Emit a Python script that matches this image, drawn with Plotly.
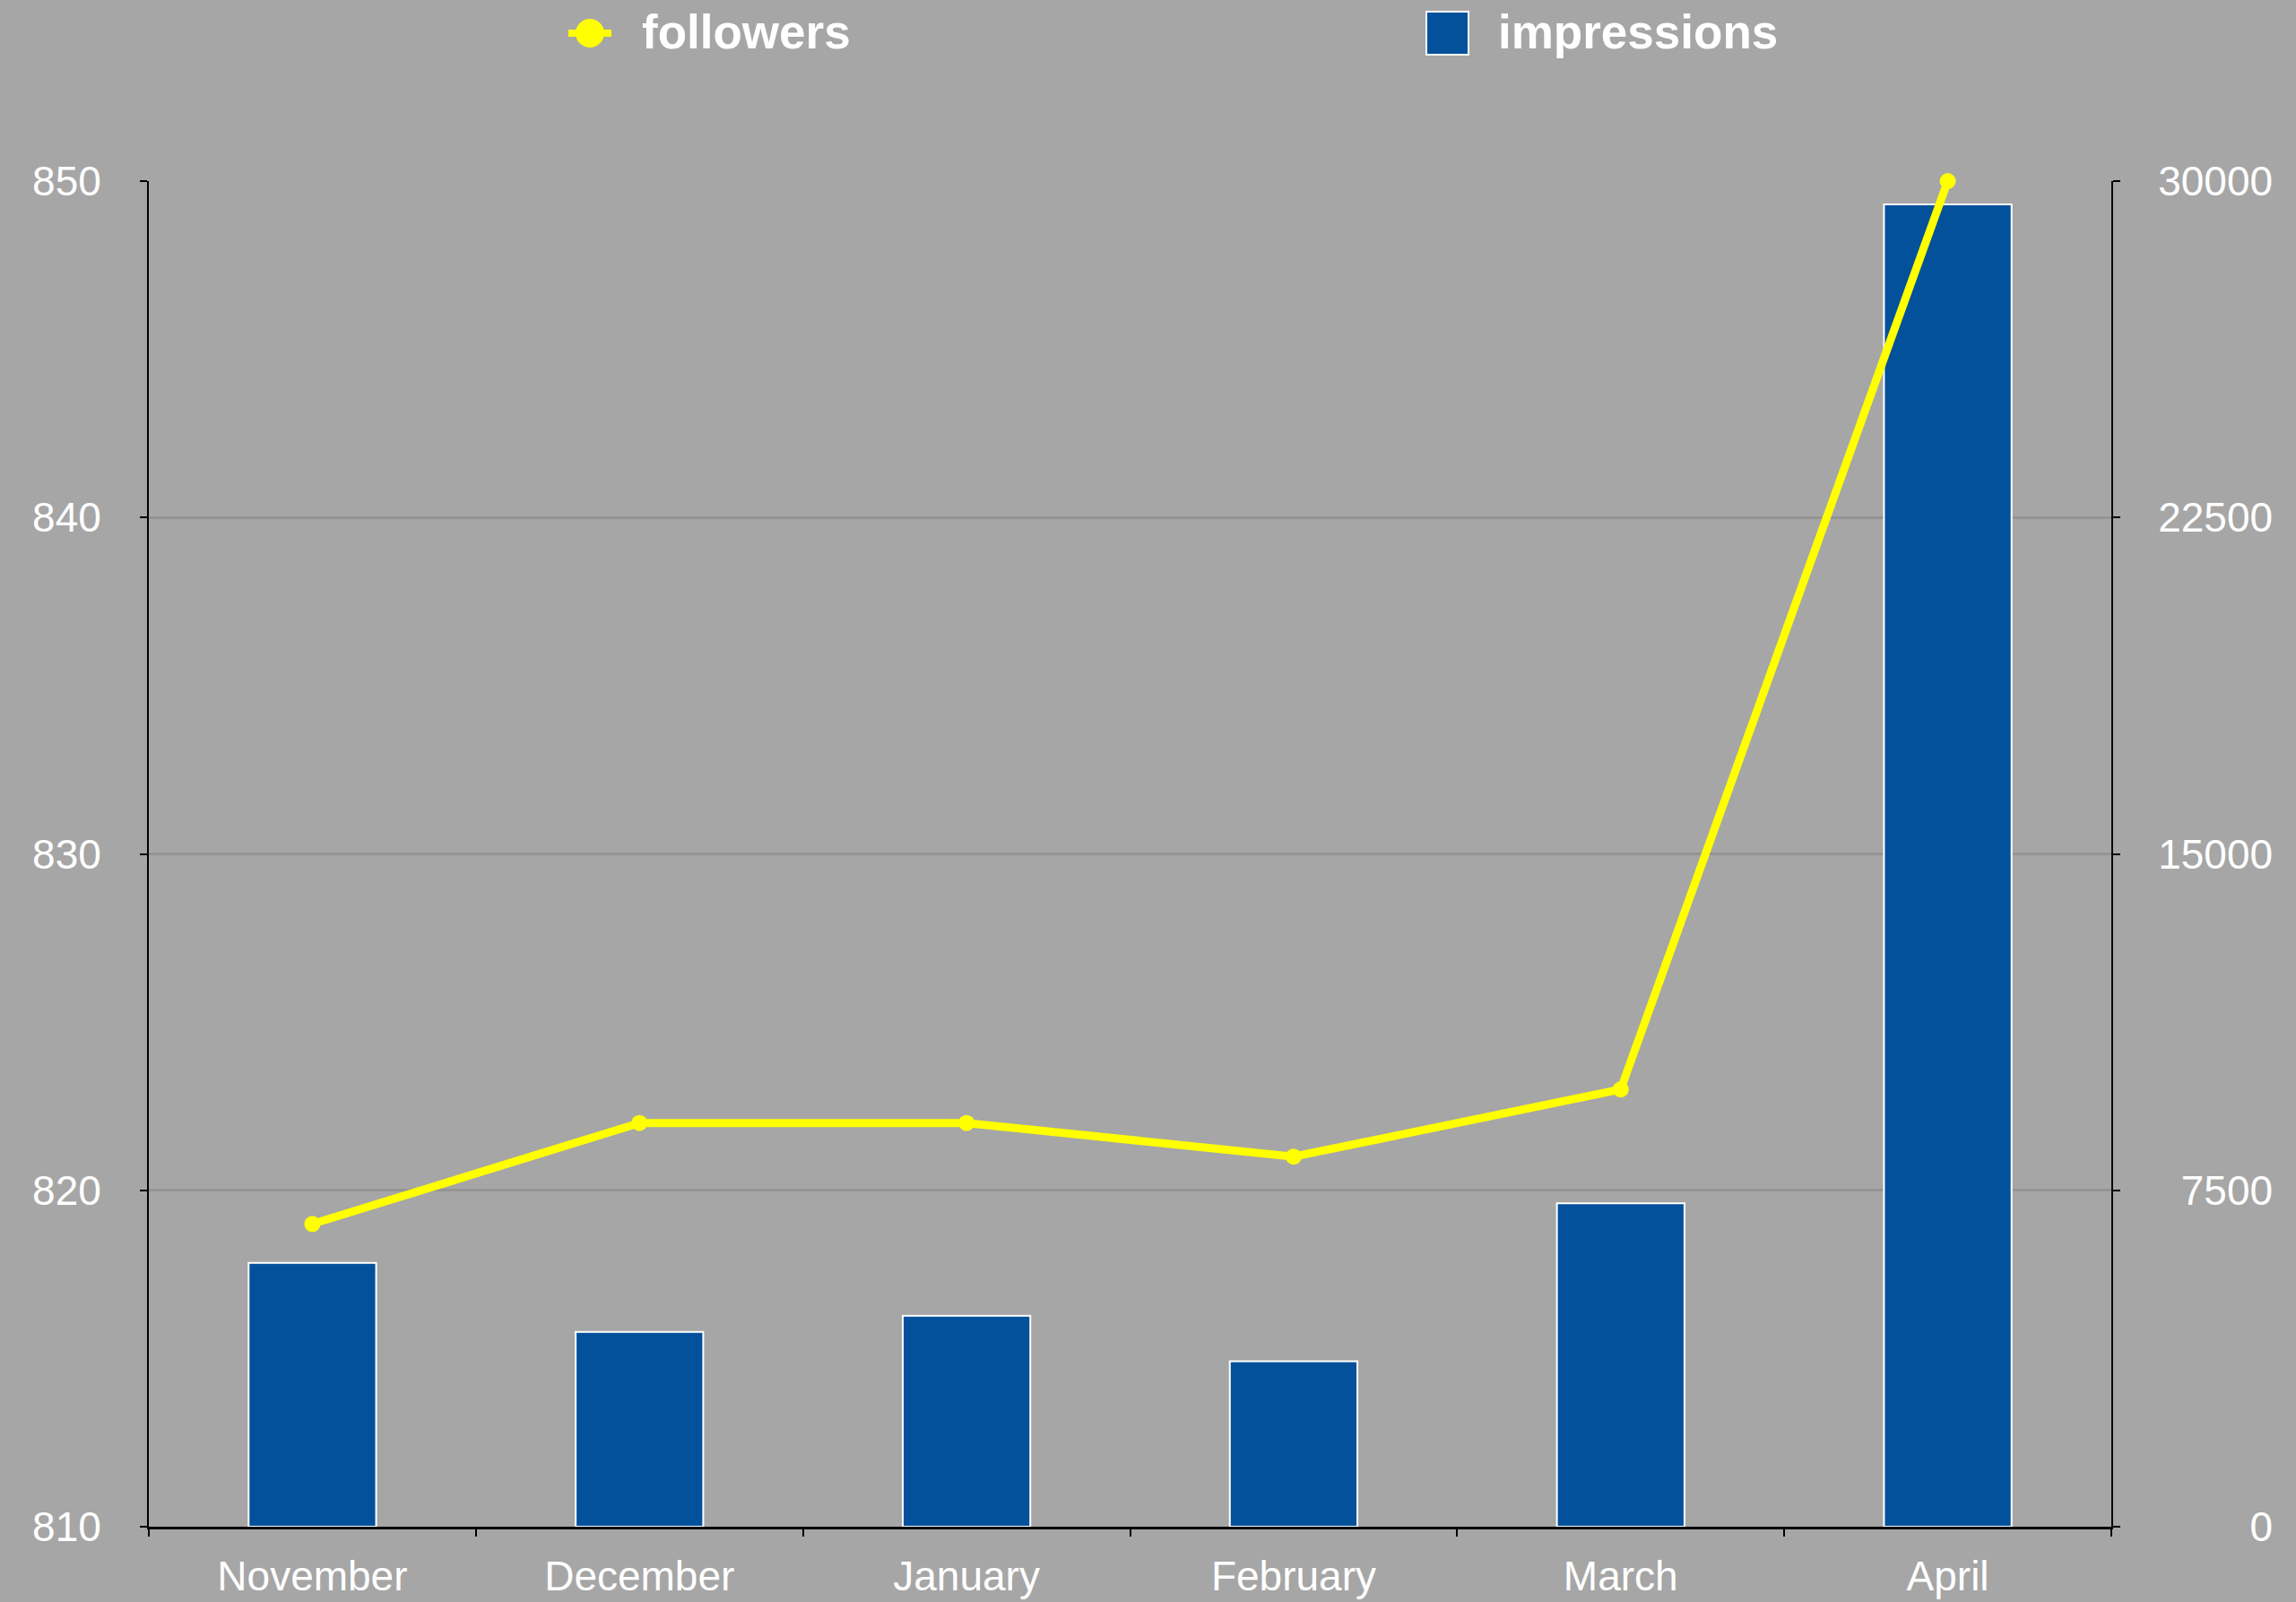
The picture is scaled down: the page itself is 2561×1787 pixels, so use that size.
import plotly.graph_objects as go

months = ["November", "December", "January", "February", "March", "April"]
followers = [819, 822, 822, 821, 823, 850]
impressions = [5880, 4340, 4700, 3690, 7210, 29480]

left_ticks = [810, 820, 830, 840, 850]
right_ticks = [0, 7500, 15000, 22500, 30000]

W, H = 2561, 1787
L, R, T, B = 166, 206, 202, 84
PW, PH = W - L - R, H - T - B

BG = "rgb(166,166,166)"
GRID = "rgb(148,148,148)"
BLUE = "#03519b"
YEL = "#ffff00"
FONT = "Liberation Sans, Arial, sans-serif"

def pad(label, width=5):
    return "\u00a0\u00a0" * (width - len(label)) + label

fig = go.Figure()
fig.add_trace(go.Bar(
    x=months, y=impressions, name="impressions", yaxis="y",
    marker=dict(color=BLUE, line=dict(color="white", width=2)),
    width=0.39, showlegend=False,
))
fig.add_trace(go.Scatter(
    x=months, y=followers, name="followers", yaxis="y2",
    mode="lines+markers",
    line=dict(color=YEL, width=9),
    marker=dict(color=YEL, size=18),
    cliponaxis=False,
    showlegend=False,
))

tickfont = dict(family=FONT, size=46, color="white")

fig.update_layout(
    template="none",
    width=W, height=H, autosize=False,
    margin=dict(l=L, r=R, t=T, b=B, pad=0),
    paper_bgcolor=BG, plot_bgcolor=BG,
    font=dict(family=FONT, color="white"),
    xaxis=dict(
        type="category", showgrid=False, showline=True, linecolor="black", linewidth=3,
        ticks="outside", tickson="boundaries", ticklen=8, tickwidth=2, tickcolor="black",
        tickfont=tickfont, ticklabelstandoff=13, zeroline=False, automargin=False,
    ),
    yaxis=dict(
        side="right", range=[0, 30000], tickvals=right_ticks,
        ticktext=[pad(str(v)) for v in right_ticks],
        showgrid=True, gridcolor=GRID, gridwidth=2.5,
        showline=True, linecolor="black", linewidth=2,
        ticks="outside", ticklen=8, tickwidth=2, tickcolor="black",
        tickfont=tickfont, ticklabelstandoff=33, zeroline=False, automargin=False,
    ),
    yaxis2=dict(
        side="left", overlaying="y", range=[810, 850], tickvals=left_ticks,
        showgrid=False, showline=True, linecolor="black", linewidth=2,
        ticks="outside", ticklen=8, tickwidth=2, tickcolor="black",
        tickfont=tickfont, ticklabelstandoff=34, zeroline=False, automargin=False,
    ),
    bargap=0.61,
)

# custom legend (symbols as shapes, labels as text)
def px_shape(kind, x0, y0, x1, y1, **kw):
    fig.add_shape(type=kind, xref="paper", yref="paper", xsizemode="pixel", ysizemode="pixel",
                  xanchor=0, yanchor=1, x0=x0 - L, x1=x1 - L, y0=T - y0, y1=T - y1, **kw)

px_shape("line", 634, 37, 682, 37, line=dict(color=YEL, width=8))
px_shape("circle", 642, 21, 674, 53, fillcolor=YEL, line=dict(color=YEL, width=0))
px_shape("rect", 1591, 13, 1638, 61, fillcolor=BLUE, line=dict(color="white", width=2))

legfont = dict(family=FONT, size=53, color="white")
for label, xpx in [("followers", 714), ("impressions", 1669)]:
    fig.add_annotation(text="<b>%s</b>" % label, xref="paper", yref="paper",
                       x=(xpx - L) / PW, y=(H - B - 35) / PH, xanchor="left", yanchor="middle",
                       showarrow=False, font=legfont)

fig.write_html("out.html", config={"displayModeBar": False},
               post_script="document.body.style.margin='0';document.body.style.padding='0';"
                           "document.body.style.overflow='hidden';")
